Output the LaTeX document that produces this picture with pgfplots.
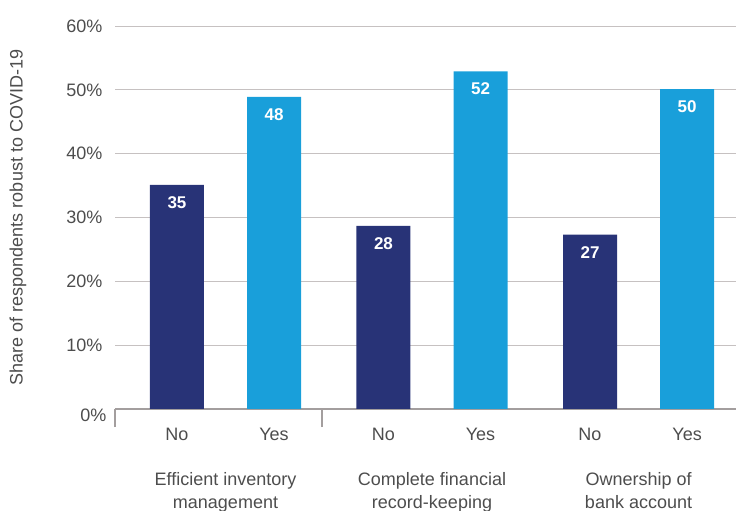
\documentclass[border=0pt]{standalone}
\usepackage{pgfplots}
\pgfplotsset{compat=1.18}
\usepackage{fontspec}
\setmainfont{Liberation Sans}
\definecolor{navy}{HTML}{283377}
\definecolor{sky}{HTML}{199FDA}
\definecolor{gridc}{HTML}{C6C1C1}
\definecolor{axisc}{HTML}{A39E9E}
\definecolor{txt}{HTML}{4D4D4D}
\begin{document}
\begin{tikzpicture}
\path[use as bounding box] (0pt,0pt) rectangle (736pt,511pt);
\begin{axis}[
  at={(115pt,102pt)}, anchor=south west,
  scale only axis, width=621pt, height=383pt,
  xmin=0.4649, xmax=3.472, ymin=0, ymax=60,
  axis x line*=bottom, axis y line*=left,
  y axis line style={draw=none},
  x axis line style={draw=axisc, line width=2pt},
  ytick={10,20,30,40,50,60},
  yticklabels={10\%,20\%,30\%,40\%,50\%,60\%},
  ymajorgrids, grid style={draw=gridc, line width=1pt},
  ytick style={draw=none},
  major tick length=0pt,
  tick style={draw=axisc, line width=2pt},
  xtick={0.765,1.235,1.765,2.235,2.765,3.235},
  xticklabels={No,Yes,No,Yes,No,Yes},
  extra x ticks={0.4649,1.467}, extra x tick labels={},
  extra x tick style={major tick length=18pt, tick align=outside, xtick style={draw=axisc, line width=2pt}},
  extra y ticks={0}, extra y tick labels={0\%},
  extra y tick style={grid=none, yticklabel style={xshift=4pt, yshift=-6pt}},
  tick label style={font=\fontsize{18}{21}\selectfont, text=txt},
  yticklabel style={xshift=-9pt},
  xticklabel style={anchor=base, yshift=-31pt},
  ylabel={Share of respondents robust to COVID-19},
  ylabel style={at={(axis description cs:-0.1562,0.5)}, anchor=center, font=\fontsize{18}{21}\selectfont, text=txt},
  clip=false,
]
\addplot[ybar, bar width=54pt, bar shift=0pt, fill=navy, draw=none,
  nodes near coords, point meta=explicit symbolic,
  every node near coord/.append style={font=\bfseries\fontsize{17}{20}\selectfont, text=white, anchor=center, yshift=-17.5pt}]
  coordinates {(0.765,35.1) [35] (1.765,28.7) [28] (2.765,27.3) [27]};
\addplot[ybar, bar width=54pt, bar shift=0pt, fill=sky, draw=none,
  nodes near coords, point meta=explicit symbolic,
  every node near coord/.append style={font=\bfseries\fontsize{17}{20}\selectfont, text=white, anchor=center, yshift=-17.5pt}]
  coordinates {(1.235,48.9) [48] (2.235,52.9) [52] (3.235,50.1) [50]};
\node[font=\fontsize{18}{23}\selectfont, text=txt, align=center, anchor=north, inner sep=0pt, yshift=-63pt] at (axis cs:1,0) {Efficient inventory\\management};
\node[font=\fontsize{18}{23}\selectfont, text=txt, align=center, anchor=north, inner sep=0pt, yshift=-63pt] at (axis cs:2,0) {Complete financial\\record-keeping};
\node[font=\fontsize{18}{23}\selectfont, text=txt, align=center, anchor=north, inner sep=0pt, yshift=-63pt] at (axis cs:3,0) {Ownership of\\bank account};
\end{axis}
\end{tikzpicture}
\end{document}
